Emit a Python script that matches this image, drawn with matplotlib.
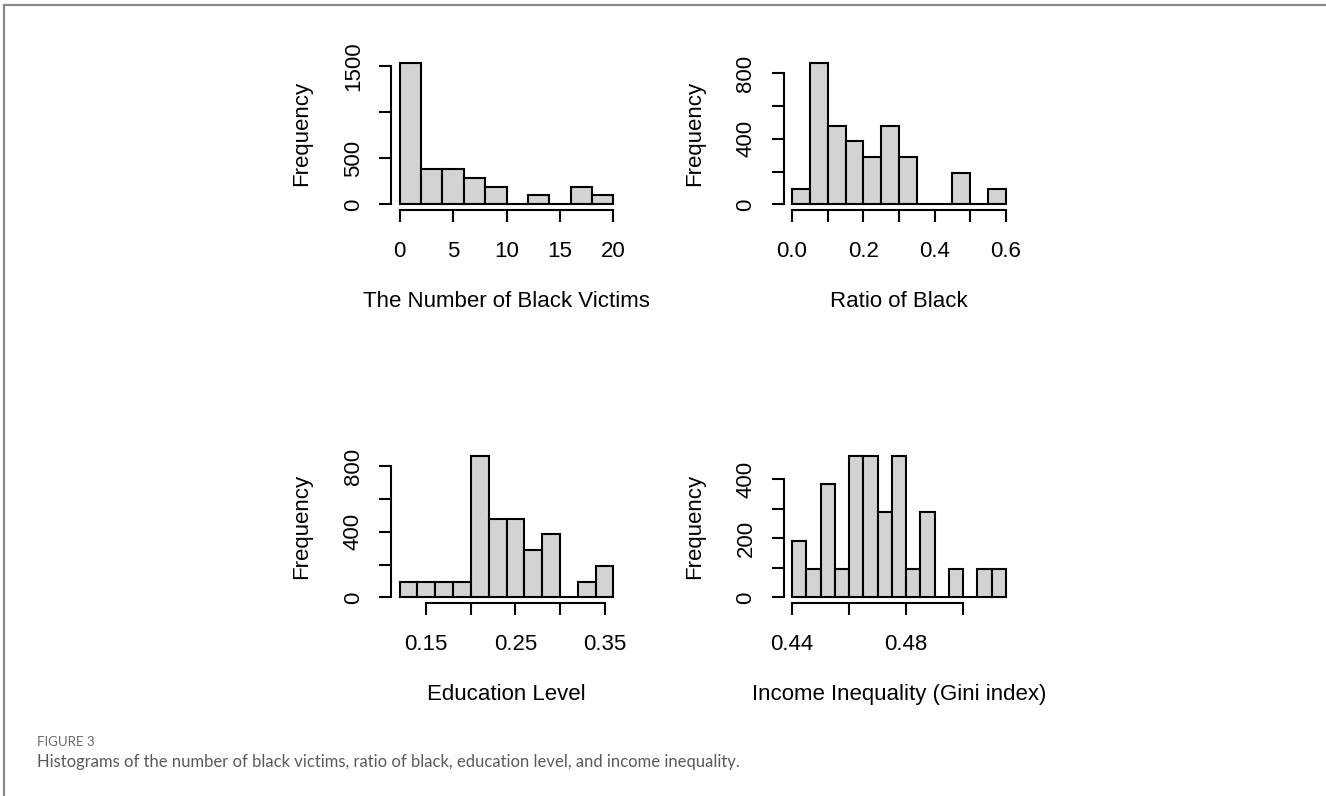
import numpy as np
import matplotlib
matplotlib.use('Agg')
import matplotlib.pyplot as plt

plt.rcParams['font.family'] = ['Liberation Sans', 'DejaVu Sans']

# histogram bins (edges) and counts
victims_edges = [0, 2, 4, 6, 8, 10, 12, 14, 16, 18, 20]
victims_counts = [1536, 384, 384, 288, 192, 0, 96, 0, 192, 96]

ratio_edges = [0.0, 0.05, 0.1, 0.15, 0.2, 0.25, 0.3, 0.35, 0.4, 0.45, 0.5, 0.55, 0.6]
ratio_counts = [96, 864, 480, 384, 288, 480, 288, 0, 0, 192, 0, 96]

edu_edges = [0.12, 0.14, 0.16, 0.18, 0.20, 0.22, 0.24, 0.26, 0.28, 0.30, 0.32, 0.34, 0.36]
edu_counts = [96, 96, 96, 96, 864, 480, 480, 288, 384, 0, 96, 192]

gini_edges = [0.44, 0.445, 0.45, 0.455, 0.46, 0.465, 0.47, 0.475, 0.48,
              0.485, 0.49, 0.495, 0.50, 0.505, 0.51, 0.515]
gini_counts = [192, 96, 384, 96, 480, 480, 288, 480, 96, 288, 0, 96, 0, 96, 96]

panels = [
    dict(edges=victims_edges, counts=victims_counts, xlabel='The Number of Black Victims',
         xticks=[0, 5, 10, 15, 20], xlabels=['0', '5', '10', '15', '20'],
         yticks=[0, 500, 1000, 1500], ylabels=['0', '500', '', '1500']),
    dict(edges=ratio_edges, counts=ratio_counts, xlabel='Ratio of Black',
         xticks=[0, 0.1, 0.2, 0.3, 0.4, 0.5, 0.6], xlabels=['0.0', '', '0.2', '', '0.4', '', '0.6'],
         yticks=[0, 200, 400, 600, 800], ylabels=['0', '', '400', '', '800']),
    dict(edges=edu_edges, counts=edu_counts, xlabel='Education Level',
         xticks=[0.15, 0.20, 0.25, 0.30, 0.35], xlabels=['0.15', '', '0.25', '', '0.35'],
         yticks=[0, 200, 400, 600, 800], ylabels=['0', '', '400', '', '800']),
    dict(edges=gini_edges, counts=gini_counts, xlabel='Income Inequality (Gini index)',
         xticks=[0.44, 0.46, 0.48, 0.50], xlabels=['0.44', '', '0.48', ''],
         yticks=[0, 100, 200, 300, 400], ylabels=['0', '', '200', '', '400']),
]

W, H = 1326, 796
fig = plt.figure(figsize=(W / 100, H / 100), dpi=100)

# plot regions in pixels: (left, top, width, height)
boxes = [(391, 57, 231, 153), (783.5, 57, 231, 153),
         (391, 450, 231, 153), (783.5, 450, 231, 153)]

lw = 1.5
fs = 16
for p, (l, t, w, h) in zip(panels, boxes):
    ax = fig.add_axes([l / W, 1 - (t + h) / H, w / W, h / H])
    e = np.array(p['edges'])
    c = np.array(p['counts'])
    ax.bar(e[:-1], c, width=np.diff(e), align='edge', color='#D3D3D3',
           edgecolor='black', linewidth=lw)
    xr = e[-1] - e[0]
    ax.set_xlim(e[0] - 0.04 * xr, e[-1] + 0.04 * xr)
    ax.set_ylim(-0.04 * c.max(), c.max() * 1.04)
    for s in ['top', 'right']:
        ax.spines[s].set_visible(False)
    ax.spines['bottom'].set_bounds(p['xticks'][0], p['xticks'][-1])
    ax.spines['left'].set_bounds(p['yticks'][0], p['yticks'][-1])
    for s in ['bottom', 'left']:
        ax.spines[s].set_linewidth(lw)
    ax.set_xticks(p['xticks'])
    ax.set_xticklabels(p['xlabels'])
    ax.set_yticks(p['yticks'])
    ax.set_yticklabels(p['ylabels'], rotation=90, va='center')
    ax.tick_params(axis='x', length=8.5, width=lw, pad=13.5, labelsize=fs)
    ax.tick_params(axis='y', length=9, width=lw, pad=10.5, labelsize=fs)
    ax.set_xlabel(p['xlabel'], fontsize=fs)
    ax.xaxis.label.set_va('center')
    ax.xaxis.set_label_coords(0.5, -0.6)
    ax.set_ylabel('Frequency', fontsize=fs)
    ax.yaxis.label.set_va('center')
    ax.yaxis.set_label_coords(-0.385, 0.5)

# frame lines of the figure page
fig.add_artist(plt.Line2D([4 / W, 4 / W], [0, 1 - 5 / H], color='#8a8a8a', linewidth=1.6))
fig.add_artist(plt.Line2D([4 / W, 1], [1 - 5 / H, 1 - 5 / H], color='#8a8a8a', linewidth=1.6))

fig.text(37 / W, 1 - 742 / H, 'FIGURE 3', fontsize=9.5, color='#6a6a6a',
         family=['Lato', 'DejaVu Sans'], va='center', ha='left')
fig.text(37 / W, 1 - 762 / H, 'Histograms of the number of black victims, ratio of black, '
         'education level, and income inequality.', fontsize=12, color='#5a5a5a',
         family=['Lato', 'DejaVu Sans'], va='center', ha='left')

fig.savefig('out.png', dpi=100)
